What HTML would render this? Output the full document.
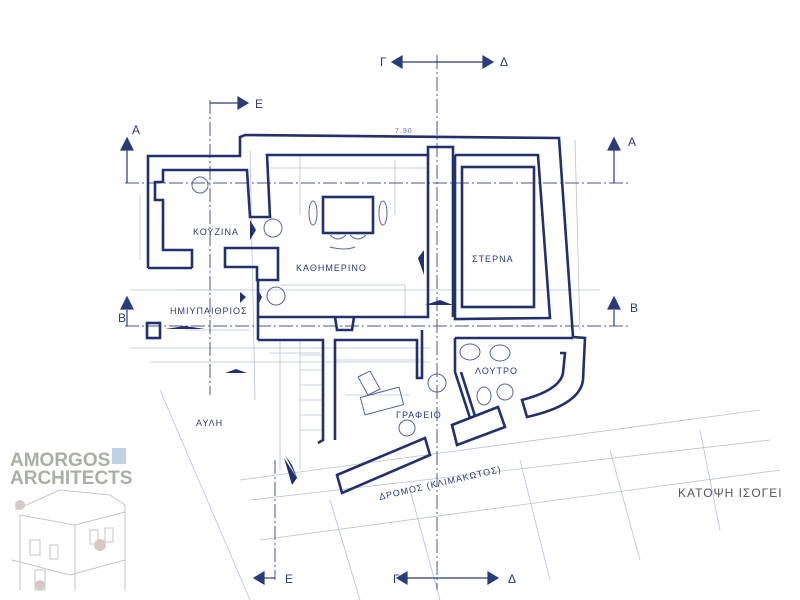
<!DOCTYPE html>
<html><head><meta charset="utf-8"><style>
html,body{margin:0;padding:0;background:#fff;}
svg{display:block;}
text{font-family:"Liberation Sans",sans-serif;}
</style></head><body>
<svg width="800" height="600" viewBox="0 0 800 600" xmlns="http://www.w3.org/2000/svg">
<rect width="800" height="600" fill="#fff"/>
<g stroke="#b9c0d8" stroke-width="0.8" fill="none">
<line x1="130" y1="290" x2="600" y2="290"/>
<line x1="130" y1="348" x2="430" y2="348"/>
<line x1="150" y1="362" x2="430" y2="362"/>
<line x1="280" y1="340" x2="280" y2="470"/>
<line x1="300" y1="340" x2="300" y2="470"/>
<line x1="300" y1="355" x2="323" y2="355"/><line x1="300" y1="370" x2="323" y2="370"/>
<line x1="300" y1="385" x2="323" y2="385"/><line x1="300" y1="400" x2="323" y2="400"/>
<line x1="300" y1="415" x2="323" y2="415"/><line x1="300" y1="430" x2="323" y2="430"/>
<line x1="160" y1="390" x2="250" y2="600"/>
<line x1="240" y1="480" x2="760" y2="410"/>
<line x1="250" y1="500" x2="770" y2="440"/>
<line x1="260" y1="540" x2="780" y2="470"/>
<line x1="330" y1="500" x2="360" y2="600"/>
<line x1="410" y1="490" x2="440" y2="600"/>
<line x1="520" y1="460" x2="550" y2="580"/>
<line x1="610" y1="450" x2="640" y2="560"/>
<line x1="700" y1="430" x2="720" y2="530"/>
<line x1="268" y1="168" x2="428" y2="168"/>
<line x1="300" y1="155" x2="300" y2="215"/>
<line x1="395" y1="160" x2="395" y2="215"/>
<line x1="280" y1="285" x2="405" y2="285"/>
<line x1="405" y1="285" x2="405" y2="317"/>
<line x1="575" y1="140" x2="580" y2="330"/>
<line x1="140" y1="195" x2="140" y2="260"/>
<line x1="175" y1="290" x2="245" y2="290"/>
<line x1="185" y1="330" x2="250" y2="330"/>
<line x1="270" y1="353" x2="320" y2="353"/>
<line x1="335" y1="360" x2="420" y2="360"/>
<line x1="345" y1="395" x2="410" y2="395"/>
<line x1="250" y1="150" x2="255" y2="400"/>
</g>
<g stroke="#4a5590" stroke-width="1" fill="none" stroke-dasharray="14,3,2,3">
<line x1="437" y1="55" x2="437" y2="590"/>
<line x1="210" y1="100" x2="210" y2="395"/>
<line x1="275" y1="460" x2="275" y2="580"/>
<line x1="125" y1="183" x2="630" y2="183"/>
<line x1="125" y1="326" x2="630" y2="326"/>
</g>
<g fill="#2b3a7a" stroke="#2b3a7a" stroke-width="1.2">
<line x1="400" y1="62" x2="485" y2="62"/>
<polygon points="392,62 402,56 402,68"/><polygon points="493,62 483,56 483,68"/>
<line x1="405" y1="578" x2="490" y2="578"/>
<polygon points="397,578 407,572 407,584"/><polygon points="498,578 488,572 488,584"/>
<line x1="210" y1="103" x2="240" y2="103"/><polygon points="248,103 238,97 238,109"/>
<line x1="275" y1="578" x2="262" y2="578"/><polygon points="254,578 264,572 264,584"/>
<line x1="127" y1="183" x2="127" y2="150"/><polygon points="127,138 121,150 133,150"/>
<line x1="614" y1="183" x2="614" y2="150"/><polygon points="614,138 608,150 620,150"/>
<line x1="127" y1="326" x2="127" y2="310"/><polygon points="127,297 121,309 133,309"/>
<line x1="614" y1="326" x2="614" y2="310"/><polygon points="614,297 608,309 620,309"/>
</g>
<g fill="#2b3a7a" font-size="12">
<text x="380" y="66">Γ</text><text x="500" y="66">Δ</text>
<text x="393" y="583">Γ</text><text x="508" y="583">Δ</text>
<text x="255" y="108">Ε</text><text x="285" y="583">Ε</text>
<text x="132" y="134">Α</text><text x="628" y="146">Α</text>
<text x="118" y="322">Β</text><text x="630" y="312">Β</text>
</g>
<g stroke="#22306e" stroke-width="2.6" fill="none" stroke-linejoin="miter">
<polyline points="148,268 148,156 240,156 240,137 245,135 559,138 573,337 585,338 583,380"/>
<path d="M583,380 Q580,405 527,417 L522,400 Q560,390 563,373 L565,353 L560,353"/>
<polyline points="192,268 148,268"/>
<polyline points="192,268 192,250 163,250 163,200 155,200 155,182 163,182 163,170 247,170 250,217 270,217 267,155 428,155 428,147 453,147 453,317"/>
<polyline points="428,155 428,317 335,317 337,330 352,330 354,317 335,317 258,317 258,280 257,280 257,267 225,267 225,248 278,248 278,280 258,280"/>
<line x1="258" y1="317" x2="258" y2="340"/>
<polyline points="258,340 323,340 323,440 318,443"/>
<polyline points="335,440 335,340 417,340 417,378 422,378 422,330"/>
<rect x="462" y="167" width="72" height="140"/>
<polyline points="455,155 538,155 550,318 455,319 455,155"/>
<polyline points="455,338 573,338"/>
<polyline points="455,338 455,372"/>
<polyline points="455,372 470,418"/><polyline points="461,372 475,416"/>
<polygon points="452,425 498,407 505,427 457,445"/>
<polygon points="337,475 425,438 430,455 342,493"/>
<rect x="147" y="323" width="13" height="15"/>
<rect x="323" y="197" width="50" height="36"/>
</g>
<g fill="#22306e">
<polygon points="250,220 256,230 250,240"/>
<polygon points="258,290 262,297 258,305"/>
<polygon points="240,292 246,297 240,303"/>
<polygon points="418,258 424,250 424,275"/>
<polygon points="425,305 440,300 453,305"/>
<polygon points="165,329 185,326 205,329"/>
<polygon points="225,373 236,369 247,373"/>
<polygon points="285,455 298,480 292,465"/>
<polygon points="284,458 297,478 292,485"/>
</g>
<g stroke="#5a65a0" stroke-width="1" fill="none">
<ellipse cx="313" cy="213" rx="4" ry="12"/><ellipse cx="383" cy="213" rx="4" ry="12"/>
<path d="M330,235 q8,8 16,0 M350,235 q8,8 16,0 M330,247 q15,4 25,0"/>
<path d="M358,377 l12,-6 l10,18 l-12,6 z"/><rect x="362" y="392" width="40" height="18" transform="rotate(-15 382 401)"/>
<ellipse cx="470" cy="352" rx="10" ry="8"/><ellipse cx="500" cy="353" rx="10" ry="8"/>
<ellipse cx="484" cy="396" rx="7" ry="9"/><ellipse cx="505" cy="392" rx="8" ry="8"/>
<circle cx="200" cy="185" r="8"/><circle cx="273" cy="228" r="9"/><circle cx="276" cy="296" r="9"/>
<circle cx="437" cy="383" r="9"/><circle cx="407" cy="428" r="8"/>
</g>
<g fill="#2b3a7a" font-size="9" letter-spacing="1">
<text x="193" y="235">ΚΟΥΖΙΝΑ</text>
<text x="296" y="271">ΚΑΘΗΜΕΡΙΝΟ</text>
<text x="472" y="262">ΣΤΕΡΝΑ</text>
<text x="170" y="314">ΗΜΙΥΠΑΙΘΡΙΟΣ</text>
<text x="475" y="374">ΛΟΥΤΡΟ</text>
<text x="396" y="418">ΓΡΑΦΕΙΟ</text>
<text x="196" y="426">ΑΥΛΗ</text>
<text x="380" y="500" transform="rotate(-13 380 500)">ΔΡΟΜΟΣ (ΚΛΙΜΑΚΩΤΟΣ)</text>
<text x="395" y="133" font-size="7" fill="#6a74a8">7.90</text>
</g>
<text x="678" y="497" font-size="12" fill="#555" letter-spacing="1">ΚΑΤΟΨΗ ΙΣΟΓΕΙ</text>
<text x="10" y="466" font-size="19" font-weight="bold" fill="#a9afa6">AMORGOS</text>
<rect x="112" y="448" width="14" height="16" fill="#bcd2e2"/>
<text x="10" y="484" font-size="19" font-weight="bold" fill="#a9afa6">ARCHITECTS</text>
<g stroke="#c6c6c6" stroke-width="1" fill="none">
<path d="M15,510 L60,490 L110,495 L125,505 L125,590 M20,515 L20,590 M20,515 L75,525 L75,590 M75,525 L125,512"/>
<path d="M30,540 h10 v15 h-10z M50,545 h8 v14 h-8z M90,530 h8 v14 h-8z M105,528 h8 v14 h-8z M35,570 h10 v20 h-10z"/>
<path d="M12,560 L70,575 L125,560"/>
</g>
<g fill="#d8c8c8"><circle cx="100" cy="545" r="6"/><circle cx="40" cy="585" r="5"/><circle cx="20" cy="505" r="5"/></g>
</svg>
</body></html>
